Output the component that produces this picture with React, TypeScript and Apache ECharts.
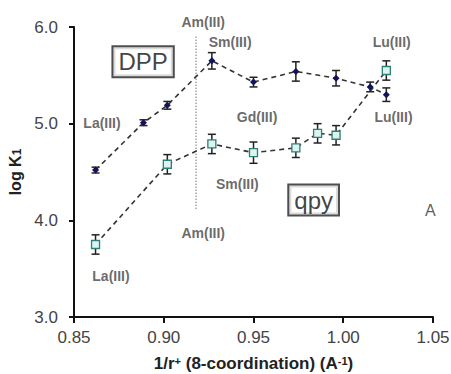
import React, { useEffect, useRef } from "react";
import * as echarts from "echarts";

// DPP (filled diamonds)
const dppX = [0.862, 0.8887, 0.902, 0.9268, 0.95, 0.9736, 0.996, 1.015, 1.024];
const dppY = [4.52, 5.01, 5.19, 5.65, 5.43, 5.54, 5.47, 5.38, 5.3];
const dppErr = [0.03, 0.03, 0.04, 0.085, 0.05, 0.1, 0.08, 0.05, 0.07];

// qpy (open squares)
const qpyX = [0.862, 0.902, 0.9268, 0.95, 0.9736, 0.9857, 0.996, 1.024];
const qpyY = [3.75, 4.58, 4.79, 4.7, 4.75, 4.9, 4.88, 5.55];
const qpyErr = [0.1, 0.1, 0.1, 0.11, 0.1, 0.1, 0.1, 0.1];

// Am(III) dotted reference line
const amLineX = [0.918, 0.918];
const amLineY = [4.12, 5.91];

// Annotation labels (data coordinates)
const annText = ["Am(III)", "Sm(III)", "Lu(III)", "La(III)", "Gd(III)", "Lu(III)", "Sm(III)", "Am(III)", "La(III)"];
const annX = [0.922, 0.937, 1.027, 0.8656, 0.952, 1.028, 0.941, 0.922, 0.8706];
const annY = [6.05, 5.84, 5.84, 5.01, 5.07, 5.07, 4.375, 3.87, 3.42];

// Boxed labels
const boxText = ["DPP", "qpy"];
const boxX = [0.8885, 0.9835];
const boxY = [5.64, 4.21];

const panelText = ["A"];
const panelX = [1.0485];
const panelY = [4.1];

const xTicks = [0.85, 0.9, 0.95, 1.0, 1.05];
const yTicks = [3, 4, 5, 6];

const FONT = "Liberation Sans, Arial, sans-serif";

function errRender(params: any, api: any) {
  const x = api.value(0);
  const lo = api.value(1);
  const hi = api.value(2);
  const a = api.coord([x, hi]);
  const b = api.coord([x, lo]);
  const w = 4;
  const style = { stroke: "#222", lineWidth: 1.5 };
  return {
    type: "group",
    children: [
      { type: "line", shape: { x1: a[0], y1: a[1], x2: b[0], y2: b[1] }, style },
      { type: "line", shape: { x1: a[0] - w, y1: a[1], x2: a[0] + w, y2: a[1] }, style },
      { type: "line", shape: { x1: b[0] - w, y1: b[1], x2: b[0] + w, y2: b[1] }, style },
    ],
  };
}

export default function App() {
  const ref = useRef<HTMLDivElement>(null);
  useEffect(() => {
    if (!ref.current) return;
    const chart = echarts.init(ref.current, null, { renderer: "svg" });
    const dash = [5, 4];
    chart.setOption({
      animation: false,
      backgroundColor: "#fff",
      grid: { left: 74, right: 18, top: 27, bottom: 57, containLabel: false, outerBoundsMode: "none" },
      xAxis: {
        type: "value",
        min: xTicks[0],
        max: xTicks[xTicks.length - 1],
        interval: 0.05,
        splitLine: { show: false },
        axisLine: { lineStyle: { color: "#111", width: 2 } },
        axisTick: { length: 6, lineStyle: { color: "#111", width: 2 } },
        axisLabel: {
          color: "#444",
          fontSize: 17,
          fontFamily: FONT,
          margin: 12,
          formatter: (v: number) => v.toFixed(2),
        },
        name: "{a|1/r}{s|+}{a| (8-coordination) (A}{s|-1}{a|)}",
        nameLocation: "middle",
        nameGap: 38,
        nameTextStyle: {
          lineHeight: 17,
          rich: {
            a: { fontSize: 17, lineHeight: 17, fontWeight: "bold", color: "#222", fontFamily: FONT },
            s: { fontSize: 11, lineHeight: 17, fontWeight: "bold", color: "#222", fontFamily: FONT, verticalAlign: "top", padding: [0, 0, 6, 0] },
          },
        },
      },
      yAxis: {
        type: "value",
        min: yTicks[0],
        max: yTicks[yTicks.length - 1],
        interval: 1,
        splitLine: { show: false },
        axisLine: { show: true, lineStyle: { color: "#111", width: 2 } },
        axisTick: { show: true, length: 5, lineStyle: { color: "#111", width: 2 } },
        axisLabel: {
          color: "#444",
          fontSize: 17,
          fontFamily: FONT,
          margin: 16,
          formatter: (v: number) => v.toFixed(1),
        },
        name: "{a|log K}{s|1}",
        nameLocation: "middle",
        nameGap: 48,
        nameTextStyle: {
          rich: {
            a: { fontSize: 16, fontWeight: "bold", color: "#222", fontFamily: FONT },
            s: { fontSize: 12, fontWeight: "bold", color: "#222", fontFamily: FONT, verticalAlign: "bottom" },
          },
        },
      },
      series: [
        {
          type: "line",
          data: amLineX.map((x, i) => [x, amLineY[i]]),
          symbol: "none",
          lineStyle: { color: "#333", width: 1, type: [1, 2] },
          z: 1,
        },
        {
          type: "custom",
          renderItem: errRender,
          data: dppX.map((x, i) => [x, dppY[i] - dppErr[i], dppY[i] + dppErr[i]]),
          z: 3,
        },
        {
          type: "custom",
          renderItem: errRender,
          data: qpyX.map((x, i) => [x, qpyY[i] - qpyErr[i], qpyY[i] + qpyErr[i]]),
          z: 3,
        },
        {
          type: "line",
          data: dppX.map((x, i) => [x, dppY[i]]),
          symbol: "diamond",
          symbolSize: 7,
          itemStyle: { color: "#12125f" },
          lineStyle: { color: "#333", width: 1.6, type: dash },
          z: 4,
        },
        {
          type: "line",
          data: qpyX.map((x, i) => [x, qpyY[i]]),
          symbol: "rect",
          symbolSize: 8,
          showAllSymbol: true,
          itemStyle: { color: "#dcf4ee", borderColor: "#2f7f78", borderWidth: 1.3 },
          lineStyle: { color: "#333", width: 1.6, type: dash },
          z: 4,
        },
        {
          type: "scatter",
          clip: false,
          symbolSize: 0,
          silent: true,
          data: annX.map((x, i) => ({ value: [x, annY[i]], name: annText[i] })),
          label: {
            show: true,
            position: "inside",
            formatter: (p: any) => p.name,
            fontSize: 14,
            fontWeight: "bold",
            color: "#444",
            fontFamily: FONT,
          },
          z: 5,
        },
        {
          type: "scatter",
          clip: false,
          symbolSize: 0,
          silent: true,
          data: boxX.map((x, i) => ({ value: [x, boxY[i]], name: boxText[i] })),
          label: {
            show: true,
            position: "inside",
            formatter: (p: any) => p.name,
            fontSize: 24,
            color: "#111",
            fontFamily: FONT,
            borderColor: "#222",
            borderWidth: 2,
            padding: [3, 5, 2, 5],
            backgroundColor: "#fff",
          },
          z: 5,
        },
        {
          type: "scatter",
          clip: false,
          symbolSize: 0,
          silent: true,
          data: panelX.map((x, i) => ({ value: [x, panelY[i]], name: panelText[i] })),
          label: {
            show: true,
            position: "inside",
            formatter: (p: any) => p.name,
            fontSize: 16,
            color: "#333",
            fontFamily: FONT,
          },
          z: 5,
        },
      ],
    });
    return () => chart.dispose();
  }, []);
  return <div ref={ref} style={{ width: 451, height: 374, position: "absolute", left: 0, top: 0 }} />;
}
